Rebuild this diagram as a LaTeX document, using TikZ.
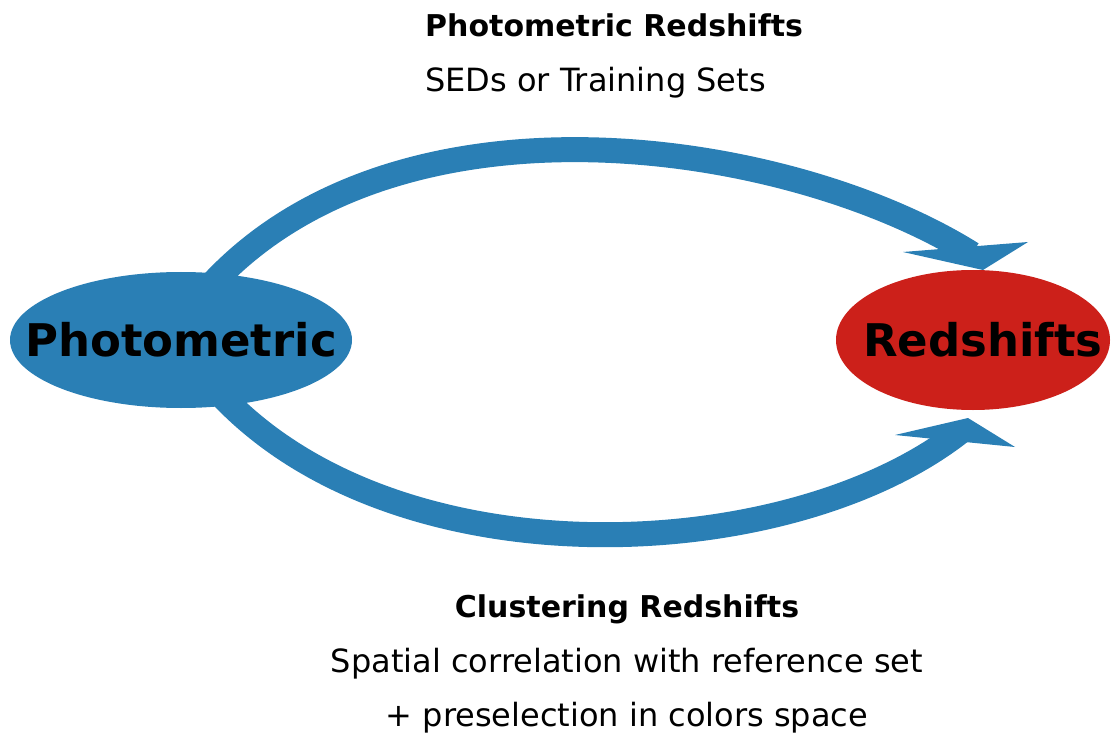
\documentclass[tikz,border=0pt]{standalone}
\usepackage{fontspec}
\setmainfont{DejaVu Sans}
\usetikzlibrary{backgrounds,shapes.geometric}
\definecolor{flowblue}{RGB}{42,127,181}
\definecolor{zred}{RGB}{204,32,26}
\tikzset{
  flow/.style={draw=flowblue, line width=25pt},
  flowhead/.style={fill=flowblue},
  blob/.style={ellipse, inner sep=0pt},
  blobtext/.style={font=\fontsize{45}{50}\selectfont\bfseries, inner sep=0pt},
  head/.style={font=\fontsize{30}{36}\selectfont\bfseries, inner sep=0pt},
  txt/.style={font=\fontsize{32}{38}\selectfont, inner sep=0pt}
}
\begin{document}
\begin{tikzpicture}[x=1pt, y=-1pt]
        \useasboundingbox (0,0) rectangle (1113,735);

        % Elipsy
        \node[blob, fill=flowblue, minimum width=342pt, minimum height=136pt,
              label={[blobtext]center:Photometric}] (photo) at (181,340) {};
        \node[blob, fill=zred, minimum width=274pt, minimum height=140pt,
              label={[blobtext, xshift=10pt]center:Redshifts}] (zspec) at (973,340) {};

        % Konce a hroty sipek
        \coordinate (topend) at (972,254);
        \coordinate (toptip) at (983,270);
        \coordinate (topleft) at (903,252);
        \coordinate (topright) at (1028,242);
        \coordinate (botend) at (960,432);
        \coordinate (bottip) at (968,418);
        \coordinate (botleft) at (895,435);
        \coordinate (botright) at (1015,447);

        % Sipky (pod elipsami)
        \begin{scope}[on background layer]
            \draw[flow] ([shift={(30,-55)}]photo.center) .. controls (400,80) and (790,140) .. (topend);
            \draw[flow] ([shift={(40,55)}]photo.center) .. controls (400,585) and (790,565) .. (botend);
        \end{scope}
        \fill[flowhead] (topleft) -- (topright) -- (toptip) -- cycle;
        \fill[flowhead] (botleft) -- (bottip) -- (botright) -- cycle;

        % Popisky nahore
        \node[head, anchor=base west] (phzhead) at (425,37) {Photometric Redshifts};
        \node[txt, anchor=base west] (phzsub) at (425,92) {SEDs or Training Sets};

        % Popisky dole
        \node[head, anchor=base] (clzhead) at (627,617) {Clustering Redshifts};
        \node[txt, anchor=base] (clzsub) at (627,672) {Spatial correlation with reference set};
        \node[txt, anchor=base] (clzsel) at (627,726) {+ preselection in colors space};
\end{tikzpicture}
\end{document}
